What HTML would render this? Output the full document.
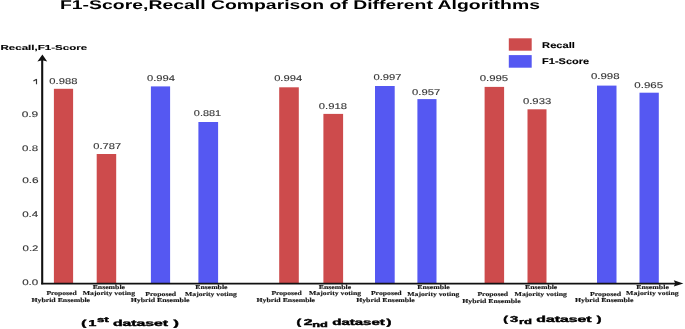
<!DOCTYPE html><html><head><meta charset="utf-8"><style>html,body{margin:0;padding:0;background:#fff;overflow:hidden}svg{display:block;filter:blur(0.3px)} .t{filter:grayscale(1)} text{text-rendering:geometricPrecision}</style></head><body>
<svg width="685" height="329" viewBox="0 0 685 329">
<rect width="685" height="329" fill="#fff"/>
<rect x="53.90" y="88.80" width="19.20" height="194.80" fill="#CD4B4C"/>
<rect x="96.70" y="154.00" width="19.50" height="129.60" fill="#CD4B4C"/>
<rect x="150.90" y="86.40" width="19.20" height="197.20" fill="#5558F2"/>
<rect x="198.40" y="122.00" width="19.70" height="161.60" fill="#5558F2"/>
<rect x="279.20" y="87.30" width="19.60" height="196.30" fill="#CD4B4C"/>
<rect x="323.40" y="113.90" width="19.70" height="169.70" fill="#CD4B4C"/>
<rect x="375.00" y="86.00" width="19.70" height="197.60" fill="#5558F2"/>
<rect x="417.40" y="99.10" width="19.10" height="184.50" fill="#5558F2"/>
<rect x="484.60" y="86.90" width="19.50" height="196.70" fill="#CD4B4C"/>
<rect x="527.50" y="109.30" width="19.00" height="174.30" fill="#CD4B4C"/>
<rect x="597.00" y="85.60" width="19.50" height="198.00" fill="#5558F2"/>
<rect x="639.50" y="92.70" width="19.30" height="190.90" fill="#5558F2"/>
<rect x="508.8" y="38.3" width="22.9" height="12.4" fill="#CD4B4C"/>
<rect x="508.8" y="55.1" width="22.9" height="12.6" fill="#5558F2"/>
<line x1="42.2" y1="60" x2="42.2" y2="284.3" stroke="#111" stroke-width="2.1"/>
<polygon points="42.4,54.6 37.4,61.6 42.3,60.3 47.2,61.6" fill="#111"/>
<line x1="41.2" y1="283.6" x2="676" y2="283.6" stroke="#111" stroke-width="1.6"/>
<polygon points="683.4,283.4 673.8,280.2 675.2,283.4 673.8,286.6" fill="#111"/>
<g class="t">
<path d="M36.5 78.9V84.2M36.6 79.2L33.4 81.0" stroke="#333" stroke-width="1.15" fill="none"/>
<text transform="translate(59.99,8.70) scale(1.5401,1)" font-family="Liberation Sans" font-weight="bold" font-size="12.6" fill="#000">F1-Score,Recall Comparison of Different Algorithms</text>
<text transform="translate(0.48,49.90) scale(1.6069,1)" font-family="Liberation Sans" font-weight="bold" font-size="7.2" fill="#000" stroke="#000" stroke-width="0.12">Recall,F1-Score</text>
<text transform="translate(542.11,47.60) scale(1.3474,1)" font-family="Liberation Sans" font-weight="bold" font-size="8.25" fill="#000" stroke="#000" stroke-width="0.12">Recall</text>
<text transform="translate(542.11,64.40) scale(1.3301,1)" font-family="Liberation Sans" font-weight="bold" font-size="8.25" fill="#000" stroke="#000" stroke-width="0.12">F1-Score</text>
<text transform="translate(21.63,116.60) scale(1.4615,1)" font-family="Liberation Sans" font-weight="normal" font-size="8.2" fill="#333" stroke="#333" stroke-width="0.12">0.9</text>
<text transform="translate(22.04,151.00) scale(1.4060,1)" font-family="Liberation Sans" font-weight="normal" font-size="8.2" fill="#333" stroke="#333" stroke-width="0.12">0.8</text>
<text transform="translate(22.13,183.20) scale(1.4523,1)" font-family="Liberation Sans" font-weight="normal" font-size="8.2" fill="#333" stroke="#333" stroke-width="0.12">0.6</text>
<text transform="translate(22.14,217.20) scale(1.4170,1)" font-family="Liberation Sans" font-weight="normal" font-size="8.2" fill="#333" stroke="#333" stroke-width="0.12">0.4</text>
<text transform="translate(22.54,251.20) scale(1.3968,1)" font-family="Liberation Sans" font-weight="normal" font-size="8.2" fill="#333" stroke="#333" stroke-width="0.12">0.2</text>
<text transform="translate(22.14,284.50) scale(1.4170,1)" font-family="Liberation Sans" font-weight="normal" font-size="8.2" fill="#333" stroke="#333" stroke-width="0.12">0.0</text>
<text transform="translate(49.35,83.90) scale(1.3371,1)" font-family="Liberation Sans" font-weight="normal" font-size="8.4" fill="#333" stroke="#333" stroke-width="0.12">0.988</text>
<text transform="translate(93.35,148.50) scale(1.3273,1)" font-family="Liberation Sans" font-weight="normal" font-size="8.4" fill="#333" stroke="#333" stroke-width="0.12">0.787</text>
<text transform="translate(146.95,80.50) scale(1.3334,1)" font-family="Liberation Sans" font-weight="normal" font-size="8.4" fill="#333" stroke="#333" stroke-width="0.12">0.994</text>
<text transform="translate(193.86,116.10) scale(1.3028,1)" font-family="Liberation Sans" font-weight="normal" font-size="8.4" fill="#333" stroke="#333" stroke-width="0.12">0.881</text>
<text transform="translate(274.15,81.40) scale(1.3334,1)" font-family="Liberation Sans" font-weight="normal" font-size="8.4" fill="#333" stroke="#333" stroke-width="0.12">0.994</text>
<text transform="translate(318.85,108.80) scale(1.3420,1)" font-family="Liberation Sans" font-weight="normal" font-size="8.4" fill="#333" stroke="#333" stroke-width="0.12">0.918</text>
<text transform="translate(373.45,79.60) scale(1.3371,1)" font-family="Liberation Sans" font-weight="normal" font-size="8.4" fill="#333" stroke="#333" stroke-width="0.12">0.997</text>
<text transform="translate(412.05,94.70) scale(1.3420,1)" font-family="Liberation Sans" font-weight="normal" font-size="8.4" fill="#333" stroke="#333" stroke-width="0.12">0.957</text>
<text transform="translate(479.64,80.70) scale(1.3616,1)" font-family="Liberation Sans" font-weight="normal" font-size="8.4" fill="#333" stroke="#333" stroke-width="0.12">0.995</text>
<text transform="translate(522.95,104.20) scale(1.3469,1)" font-family="Liberation Sans" font-weight="normal" font-size="8.4" fill="#333" stroke="#333" stroke-width="0.12">0.933</text>
<text transform="translate(590.94,78.60) scale(1.3665,1)" font-family="Liberation Sans" font-weight="normal" font-size="8.4" fill="#333" stroke="#333" stroke-width="0.12">0.998</text>
<text transform="translate(634.34,88.00) scale(1.3714,1)" font-family="Liberation Sans" font-weight="normal" font-size="8.4" fill="#333" stroke="#333" stroke-width="0.12">0.965</text>
<text transform="translate(46.38,295.30) scale(1.2678,1)" font-family="Liberation Serif" font-weight="bold" font-size="6.0" fill="#151515" stroke="#151515" stroke-width="0.14">Proposed</text>
<text transform="translate(31.48,301.50) scale(1.2971,1)" font-family="Liberation Serif" font-weight="bold" font-size="6.0" fill="#151515" stroke="#151515" stroke-width="0.14">Hybrid Ensemble</text>
<text transform="translate(92.68,288.70) scale(1.2916,1)" font-family="Liberation Serif" font-weight="bold" font-size="6.0" fill="#151515" stroke="#151515" stroke-width="0.14">Ensemble</text>
<text transform="translate(82.78,295.10) scale(1.2897,1)" font-family="Liberation Serif" font-weight="bold" font-size="6.0" fill="#151515" stroke="#151515" stroke-width="0.14">Majority voting</text>
<text transform="translate(145.28,295.80) scale(1.2931,1)" font-family="Liberation Serif" font-weight="bold" font-size="6.0" fill="#151515" stroke="#151515" stroke-width="0.14">Proposed</text>
<text transform="translate(130.78,302.30) scale(1.3015,1)" font-family="Liberation Serif" font-weight="bold" font-size="6.0" fill="#151515" stroke="#151515" stroke-width="0.14">Hybrid Ensemble</text>
<text transform="translate(195.28,289.40) scale(1.2875,1)" font-family="Liberation Serif" font-weight="bold" font-size="6.0" fill="#151515" stroke="#151515" stroke-width="0.14">Ensemble</text>
<text transform="translate(185.08,296.10) scale(1.2773,1)" font-family="Liberation Serif" font-weight="bold" font-size="6.0" fill="#151515" stroke="#151515" stroke-width="0.14">Majority voting</text>
<text transform="translate(271.38,295.30) scale(1.2678,1)" font-family="Liberation Serif" font-weight="bold" font-size="6.0" fill="#151515" stroke="#151515" stroke-width="0.14">Proposed</text>
<text transform="translate(256.48,301.50) scale(1.2971,1)" font-family="Liberation Serif" font-weight="bold" font-size="6.0" fill="#151515" stroke="#151515" stroke-width="0.14">Hybrid Ensemble</text>
<text transform="translate(318.78,288.70) scale(1.2916,1)" font-family="Liberation Serif" font-weight="bold" font-size="6.0" fill="#151515" stroke="#151515" stroke-width="0.14">Ensemble</text>
<text transform="translate(309.08,295.10) scale(1.2847,1)" font-family="Liberation Serif" font-weight="bold" font-size="6.0" fill="#151515" stroke="#151515" stroke-width="0.14">Majority voting</text>
<text transform="translate(370.88,295.30) scale(1.2888,1)" font-family="Liberation Serif" font-weight="bold" font-size="6.0" fill="#151515" stroke="#151515" stroke-width="0.14">Proposed</text>
<text transform="translate(356.18,302.00) scale(1.2971,1)" font-family="Liberation Serif" font-weight="bold" font-size="6.0" fill="#151515" stroke="#151515" stroke-width="0.14">Hybrid Ensemble</text>
<text transform="translate(417.28,289.40) scale(1.2996,1)" font-family="Liberation Serif" font-weight="bold" font-size="6.0" fill="#151515" stroke="#151515" stroke-width="0.14">Ensemble</text>
<text transform="translate(407.28,296.10) scale(1.2847,1)" font-family="Liberation Serif" font-weight="bold" font-size="6.0" fill="#151515" stroke="#151515" stroke-width="0.14">Majority voting</text>
<text transform="translate(477.38,296.30) scale(1.2888,1)" font-family="Liberation Serif" font-weight="bold" font-size="6.0" fill="#151515" stroke="#151515" stroke-width="0.14">Proposed</text>
<text transform="translate(462.28,302.70) scale(1.2904,1)" font-family="Liberation Serif" font-weight="bold" font-size="6.0" fill="#151515" stroke="#151515" stroke-width="0.14">Hybrid Ensemble</text>
<text transform="translate(525.08,289.40) scale(1.2875,1)" font-family="Liberation Serif" font-weight="bold" font-size="6.0" fill="#151515" stroke="#151515" stroke-width="0.14">Ensemble</text>
<text transform="translate(514.58,296.30) scale(1.2897,1)" font-family="Liberation Serif" font-weight="bold" font-size="6.0" fill="#151515" stroke="#151515" stroke-width="0.14">Majority voting</text>
<text transform="translate(589.88,295.80) scale(1.3057,1)" font-family="Liberation Serif" font-weight="bold" font-size="6.0" fill="#151515" stroke="#151515" stroke-width="0.14">Proposed</text>
<text transform="translate(575.08,302.30) scale(1.2926,1)" font-family="Liberation Serif" font-weight="bold" font-size="6.0" fill="#151515" stroke="#151515" stroke-width="0.14">Hybrid Ensemble</text>
<text transform="translate(636.18,288.90) scale(1.3077,1)" font-family="Liberation Serif" font-weight="bold" font-size="6.0" fill="#151515" stroke="#151515" stroke-width="0.14">Ensemble</text>
<text transform="translate(626.08,295.30) scale(1.2971,1)" font-family="Liberation Serif" font-weight="bold" font-size="6.0" fill="#151515" stroke="#151515" stroke-width="0.14">Majority voting</text>
<text transform="translate(81.29,325.90) scale(1.7625,1)" font-family="Liberation Sans" font-weight="bold" font-size="8.6" fill="#000" stroke="#000" stroke-width="0.4">(</text>
<text transform="translate(88.52,325.90) scale(1.6372,1)" font-family="Liberation Sans" font-weight="bold" font-size="8.6" fill="#000" stroke="#000" stroke-width="0.4">1</text>
<text transform="translate(96.88,322.00) scale(1.8060,1)" font-family="Liberation Sans" font-weight="bold" font-size="7.4" fill="#000" stroke="#000" stroke-width="0.4">st</text>
<text transform="translate(113.01,325.90) scale(1.8287,1)" font-family="Liberation Sans" font-weight="bold" font-size="8.6" fill="#000" stroke="#000" stroke-width="0.4">dataset</text>
<text transform="translate(173.40,325.90) scale(1.8800,1)" font-family="Liberation Sans" font-weight="bold" font-size="8.6" fill="#000" stroke="#000" stroke-width="0.4">)</text>
<text transform="translate(296.55,325.10) scale(1.6059,1)" font-family="Liberation Sans" font-weight="bold" font-size="8.6" fill="#000" stroke="#000" stroke-width="0.4">(</text>
<text transform="translate(303.71,325.10) scale(1.8372,1)" font-family="Liberation Sans" font-weight="bold" font-size="8.6" fill="#000" stroke="#000" stroke-width="0.4">2</text>
<text transform="translate(312.20,326.90) scale(1.7274,1)" font-family="Liberation Sans" font-weight="bold" font-size="7.4" fill="#000" stroke="#000" stroke-width="0.4">nd</text>
<text transform="translate(332.23,325.10) scale(1.7449,1)" font-family="Liberation Sans" font-weight="bold" font-size="8.6" fill="#000" stroke="#000" stroke-width="0.4">dataset</text>
<text transform="translate(386.60,325.10) scale(1.7234,1)" font-family="Liberation Sans" font-weight="bold" font-size="8.6" fill="#000" stroke="#000" stroke-width="0.4">)</text>
<text transform="translate(503.25,322.40) scale(1.6059,1)" font-family="Liberation Sans" font-weight="bold" font-size="8.6" fill="#000" stroke="#000" stroke-width="0.4">(</text>
<text transform="translate(510.07,322.40) scale(1.7364,1)" font-family="Liberation Sans" font-weight="bold" font-size="8.6" fill="#000" stroke="#000" stroke-width="0.4">3</text>
<text transform="translate(518.88,324.30) scale(1.7636,1)" font-family="Liberation Sans" font-weight="bold" font-size="7.4" fill="#000" stroke="#000" stroke-width="0.4">rd</text>
<text transform="translate(536.31,322.40) scale(1.8321,1)" font-family="Liberation Sans" font-weight="bold" font-size="8.6" fill="#000" stroke="#000" stroke-width="0.4">dataset</text>
<text transform="translate(596.80,322.40) scale(1.6450,1)" font-family="Liberation Sans" font-weight="bold" font-size="8.6" fill="#000" stroke="#000" stroke-width="0.4">)</text>
</g>
</svg></body></html>
